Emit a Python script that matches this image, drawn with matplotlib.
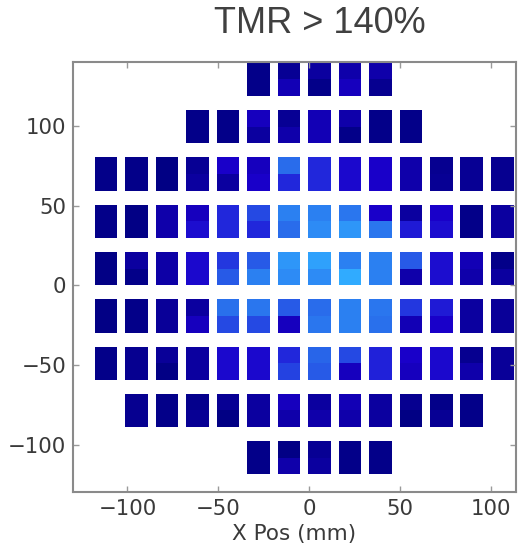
import numpy as np
import matplotlib
matplotlib.use('Agg')
import matplotlib.pyplot as plt
from matplotlib import colors as mcolors

## TMR per die, upper and lower half (0 = lowest, 1 = highest of the scale)
## rows run from top of wafer (y high) to bottom, 14 columns, None = no die
n = None
top_vals = [
    [n, n, n, n, n, 0.05, 0.10, 0.15, 0.20, 0.20, n, n, n, n],
    [n, n, n, 0.05, 0.05, 0.30, 0.10, 0.25, 0.20, 0.05, 0.05, n, n, n],
    [0.05, 0.05, 0.02, 0.10, 0.35, 0.30, 0.70, 0.50, 0.38, 0.35, 0.20, 0.08, 0.10, 0.08],
    [0.05, 0.03, 0.20, 0.30, 0.50, 0.60, 0.80, 0.80, 0.75, 0.35, 0.15, 0.35, 0.05, 0.15],
    [0.03, 0.15, 0.18, 0.38, 0.55, 0.65, 0.90, 0.95, 0.80, 0.80, 0.65, 0.40, 0.25, 0.05],
    [0.03, 0.05, 0.12, 0.15, 0.72, 0.75, 0.65, 0.70, 0.80, 0.75, 0.55, 0.45, 0.15, 0.12],
    [0.05, 0.08, 0.12, 0.15, 0.38, 0.38, 0.50, 0.68, 0.60, 0.48, 0.35, 0.38, 0.08, 0.12],
    [n, 0.08, 0.05, 0.06, 0.10, 0.15, 0.30, 0.15, 0.25, 0.15, 0.08, 0.05, 0.05, n],
    [n, n, n, n, n, 0.05, 0.03, 0.10, 0.05, 0.05, n, n, n, n],
]
bot_vals = [
    [n, n, n, n, n, 0.05, 0.25, 0.05, 0.30, 0.08, n, n, n, n],
    [n, n, n, 0.05, 0.05, 0.15, 0.20, 0.25, 0.05, 0.05, 0.05, n, n, n],
    [0.05, 0.05, 0.02, 0.15, 0.15, 0.35, 0.50, 0.50, 0.38, 0.35, 0.20, 0.10, 0.10, 0.08],
    [0.05, 0.03, 0.20, 0.40, 0.50, 0.50, 0.70, 0.85, 0.90, 0.75, 0.45, 0.40, 0.05, 0.15],
    [0.03, 0.05, 0.18, 0.38, 0.65, 0.80, 0.85, 0.85, 1.00, 0.80, 0.20, 0.40, 0.20, 0.15],
    [0.03, 0.05, 0.12, 0.30, 0.60, 0.60, 0.30, 0.75, 0.80, 0.72, 0.25, 0.35, 0.15, 0.12],
    [0.05, 0.08, 0.03, 0.15, 0.38, 0.38, 0.58, 0.65, 0.30, 0.48, 0.30, 0.38, 0.20, 0.12],
    [n, 0.08, 0.05, 0.10, 0.02, 0.15, 0.20, 0.20, 0.20, 0.15, 0.02, 0.10, 0.05, n],
    [n, n, n, n, n, 0.05, 0.20, 0.15, 0.05, 0.05, n, n, n, n],
]

## die layout (mm)
x0, x_pitch = -111.8, 16.79
y0, y_pitch = 129.4, -29.7
die_w, die_h = 12.5, 20.9

## blue part of a jet-like map
cmap = mcolors.LinearSegmentedColormap.from_list('tmr', [
    (0.00, (0.00, 0.00, 0.50)),
    (0.35, (0.10, 0.00, 0.79)),
    (0.50, (0.13, 0.15, 0.86)),
    (0.70, (0.16, 0.42, 0.92)),
    (1.00, (0.19, 0.67, 1.00)),
])

fig = plt.figure(figsize=(5.22, 5.52), dpi=100)
ax = fig.add_axes([0.1398, 0.1078, 0.8487, 0.779])

xs, ys, cs = [], [], []
for r in range(len(top_vals)):
    for c in range(len(top_vals[r])):
        if top_vals[r][c] is None:
            continue
        xc = x0 + c*x_pitch
        yc = y0 + r*y_pitch
        # upper half
        xs.append(xc); ys.append(yc); cs.append(top_vals[r][c])
        # lower half
        xs.append(xc); ys.append(yc - die_h/2.); cs.append(bot_vals[r][c])

ax.bar(xs, die_h/2., width=die_w, bottom=ys, color=cmap(np.array(cs)),
       linewidth=0, align='center')

ax.set_xlim(-130, 114)
ax.set_ylim(-130, 140)
ax.set_xticks([-100, -50, 0, 50, 100])
ax.set_yticks([-100, -50, 0, 50, 100])

fontsize = 15.3
tcol = '#3a3a3a'
ax.tick_params(direction='in', which='both', top=True, right=True, length=4,
               width=1, color='#9a9a9a', labelsize=fontsize, labelcolor=tcol, pad=5)
for sp in ax.spines.values():
    sp.set_color('#8a8a8a')
    sp.set_linewidth(1.5)
ax.set_xlabel('X Pos (mm)', fontsize=15.5, color=tcol, labelpad=3)

fig.text(0.613, 0.957, 'TMR > 140%', ha='center', va='center', fontsize=26,
         color='#404040', family='Liberation Sans')

plt.savefig('out.png', dpi=100)
plt.close(fig)
